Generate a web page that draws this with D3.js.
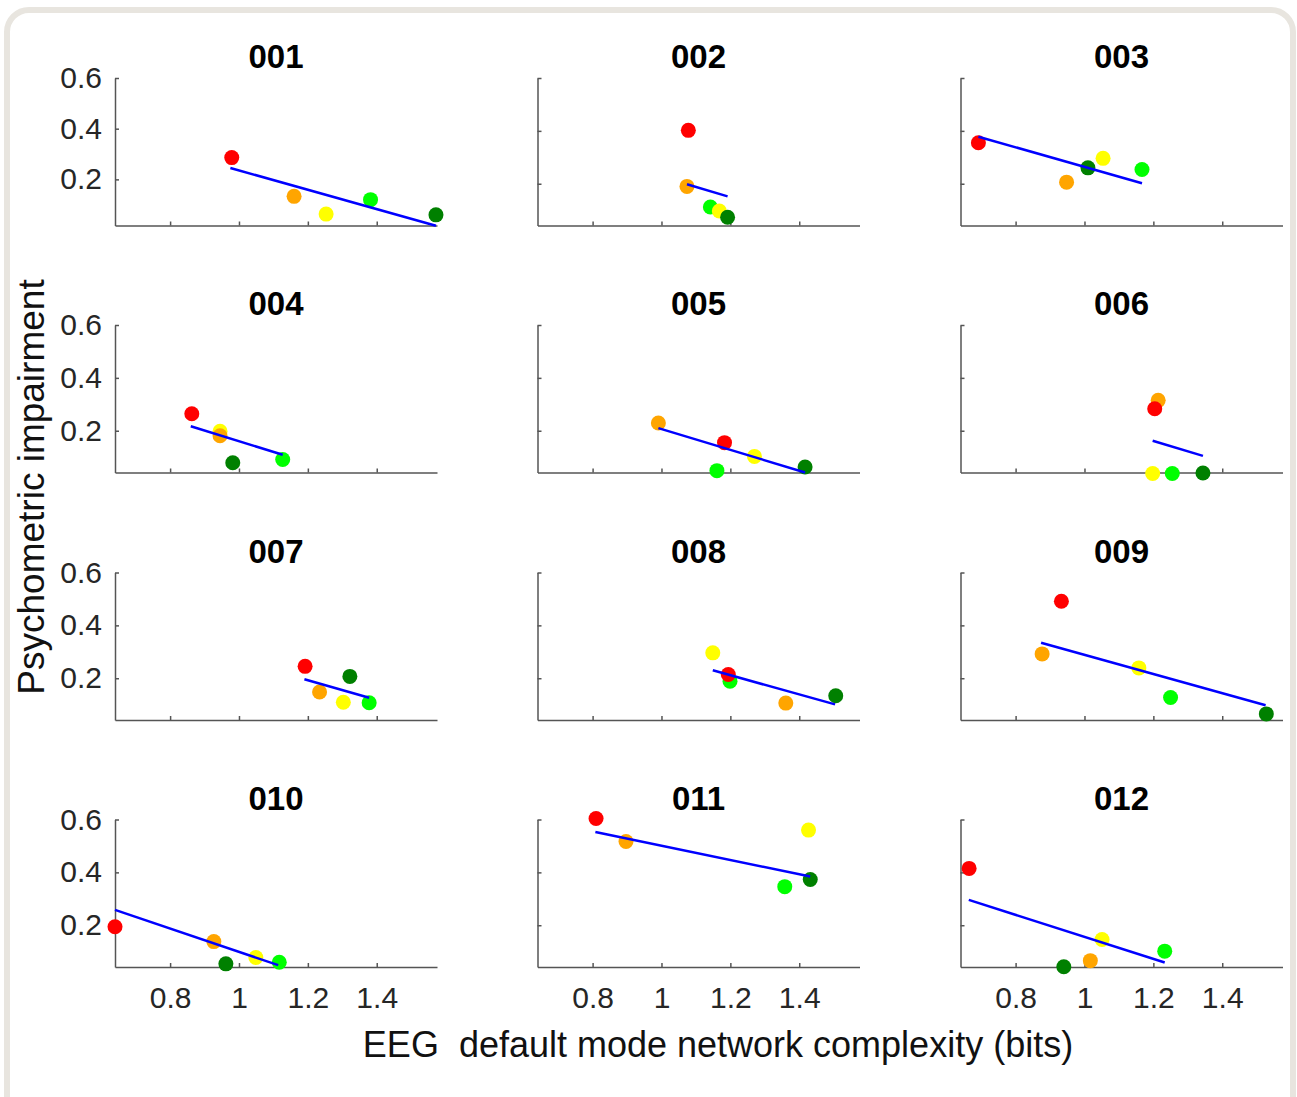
<!DOCTYPE html>
<html lang="en">
<head>
    <meta charset="UTF-8">
    <title>Psychometric impairment vs DMN complexity</title>
    <script src="https://cdn.jsdelivr.net/npm/d3@7"></script>
    <style>
        body { margin: 0; background: #fff; }
        svg { display: block; font-family: "Liberation Sans", Arial, sans-serif; }
        .axis path, .axis line { stroke: #555; stroke-width: 1.5; }
        .axis text { fill: #262626; font-size: 30px; }
        .title { font-size: 33px; font-weight: bold; fill: #000; }
        .label { fill: #111; white-space: pre; }
    </style>
</head>
<body>
<svg id="fig" width="1297" height="1097"></svg>
<script>
    // panel names
    let panels = ["001", "002", "003", "004", "005", "006", "007", "008", "009", "010", "011", "012"];
    // dot colours, in data order: red, orange, yellow, green, dark green
    let dotColors = ["#ff0000", "#ffa500", "#ffff00", "#00ff00", "#008000"];
    let drawOrder = [3, 2, 1, 0, 4];

    // EEG DMN complexity (bits), one row per panel
    let xVals = [
        [0.979, 1.160, 1.253, 1.382, 1.572],
        [1.078, 1.074, 1.168, 1.142, 1.192],
        [0.692, 0.948, 1.054, 1.167, 1.010],
        [0.863, 0.945, 0.945, 1.127, 0.982],
        [1.183, 0.991, 1.270, 1.161, 1.417],
        [1.204, 1.214, 1.198, 1.255, 1.344],
        [1.192, 1.234, 1.303, 1.378, 1.322],
        [1.194, 1.361, 1.149, 1.199, 1.506],
        [0.933, 0.877, 1.158, 1.250, 1.528],
        [0.640, 0.927, 1.049, 1.117, 0.962],
        [0.810, 0.897, 1.427, 1.358, 1.432],
        [0.665, 1.017, 1.051, 1.233, 0.940]
    ];
    // psychometric impairment
    let yVals = [
        [0.286, 0.133, 0.063, 0.120, 0.060],
        [0.402, 0.190, 0.097, 0.112, 0.073],
        [0.355, 0.206, 0.296, 0.254, 0.260],
        [0.264, 0.181, 0.198, 0.091, 0.079],
        [0.155, 0.229, 0.103, 0.049, 0.063],
        [0.283, 0.315, 0.038, 0.038, 0.040],
        [0.245, 0.148, 0.109, 0.107, 0.207],
        [0.214, 0.106, 0.296, 0.189, 0.134],
        [0.491, 0.292, 0.239, 0.127, 0.065],
        [0.194, 0.138, 0.078, 0.060, 0.054],
        [0.604, 0.517, 0.560, 0.346, 0.373],
        [0.415, 0.066, 0.146, 0.102, 0.043]
    ];
    // fitted line end points [start, end]
    let fitX = [
        [0.975, 1.572], [1.074, 1.192], [0.692, 1.167],
        [0.860, 1.127], [0.991, 1.417], [1.198, 1.344],
        [1.190, 1.378], [1.149, 1.504], [0.874, 1.526],
        [0.640, 1.114], [0.808, 1.432], [0.664, 1.233]
    ];
    let fitY = [
        [0.245, 0.017], [0.198, 0.152], [0.378, 0.202],
        [0.217, 0.109], [0.210, 0.042], [0.162, 0.105],
        [0.196, 0.126], [0.230, 0.101], [0.334, 0.098],
        [0.258, 0.049], [0.553, 0.384], [0.296, 0.059]
    ];
    // lower y limit of each panel
    let yLow = [0.018, 0.042, 0.042, 0.042, 0.042, 0.042, 0.042, 0.042, 0.042, 0.042, 0.042, 0.042];
    let xDomain = [0.64, 1.575];
    let yHigh = 0.6;
    let xTicks = [0.8, 1, 1.2, 1.4];
    let yTicks = [0.2, 0.4, 0.6];

    let svg = d3.select("#fig");

    // rounded frame
    svg.append("rect")
        .attr("x", 7).attr("y", 10)
        .attr("width", 1286).attr("height", 1130)
        .attr("rx", 22)
        .attr("fill", "#fff")
        .attr("stroke", "#e8e5df")
        .attr("stroke-width", 6);

    let colLeft = [115, 537.5, 960.5];
    let rowTop = [78, 325, 572.5, 819.5];
    let pw = 322, ph = 147.5;

    panels.forEach(function (name, i) {
        let r = Math.floor(i / 3), c = i % 3;
        let g = svg.append("g")
            .attr("transform", "translate(" + colLeft[c] + "," + rowTop[r] + ")");

        let x = d3.scaleLinear().domain(xDomain).range([0, pw]);
        let y = d3.scaleLinear().domain([yLow[i], yHigh]).range([ph, 0]);

        let yAxis = d3.axisLeft(y).tickValues(yTicks).tickSize(-4).tickSizeOuter(0).tickPadding(13);
        if (c > 0) yAxis.tickFormat("");
        else yAxis.tickFormat(d3.format(".1f"));
        g.append("g").attr("class", "axis").call(yAxis);

        let xAxis = d3.axisBottom(x).tickValues(xTicks).tickSize(-4).tickSizeOuter(0).tickPadding(20);
        if (r < 3) xAxis.tickFormat("");
        else xAxis.tickFormat(d => d === 1 ? "1" : d3.format(".1f")(d));
        g.append("g").attr("class", "axis")
            .attr("transform", "translate(0," + ph + ")")
            .call(xAxis);

        g.selectAll(".domain").attr("fill", "none");

        g.append("text")
            .attr("class", "title")
            .attr("x", pw / 2)
            .attr("y", -10)
            .attr("text-anchor", "middle")
            .text(name);

        g.selectAll("circle")
            .data(drawOrder)
            .enter()
            .append("circle")
            .attr("cx", k => x(xVals[i][k]))
            .attr("cy", k => y(yVals[i][k]))
            .attr("r", 7.5)
            .attr("fill", k => dotColors[k]);

        g.append("line")
            .attr("x1", x(fitX[i][0]))
            .attr("y1", y(fitY[i][0]))
            .attr("x2", x(fitX[i][1]))
            .attr("y2", y(fitY[i][1]))
            .attr("stroke", "#0000ff")
            .attr("stroke-width", 2.5);
    });

    // axis titles
    svg.append("text")
        .attr("class", "label")
        .attr("font-size", 37)
        .attr("transform", "translate(44,487) rotate(-90)")
        .attr("text-anchor", "middle")
        .text("Psychometric impairment");

    svg.append("text")
        .attr("class", "label")
        .attr("font-size", 36)
        .attr("x", 718)
        .attr("y", 1057)
        .attr("text-anchor", "middle")
        .text("EEG  default mode network complexity (bits)");
</script>
</body>
</html>
